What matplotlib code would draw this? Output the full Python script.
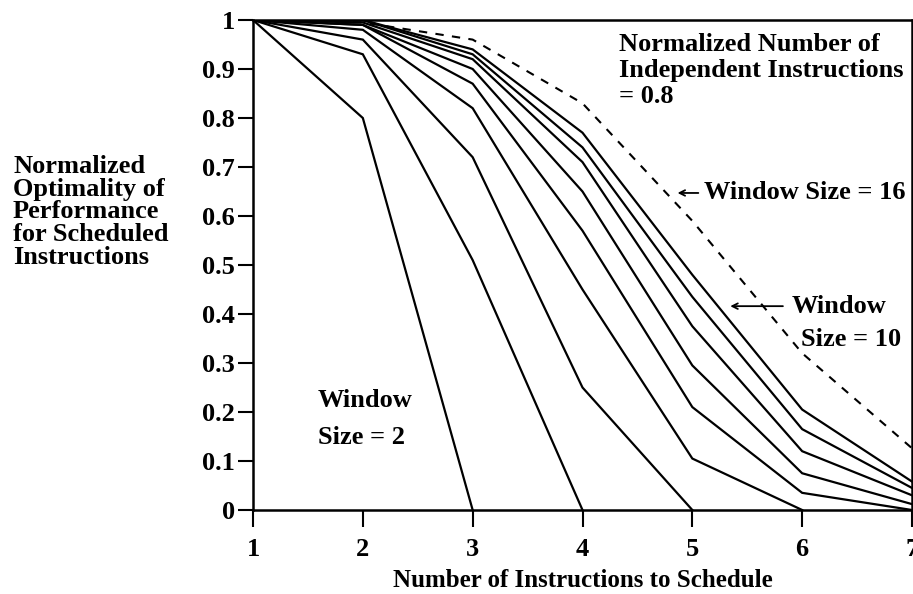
import numpy as np
import matplotlib.pyplot as plt

plt.rcParams['font.family'] = ['Liberation Serif', 'DejaVu Serif']
plt.rcParams['font.weight'] = 'bold'

# curve values (x = 1, 2, 3, ...), each curve stops where it reaches 0
w2 = [1.0, 0.80, 0.0]
w3 = [1.0, 0.93, 0.51, 0.0]
w4 = [1.0, 0.96, 0.72, 0.25, 0.0]
w5 = [1.0, 0.98, 0.82, 0.45, 0.105, 0.0]
w6 = [1.0, 0.99, 0.87, 0.57, 0.21, 0.035, 0.0]
w7 = [1.0, 0.99, 0.90, 0.65, 0.295, 0.075, 0.012]
w8 = [1.0, 0.995, 0.92, 0.71, 0.375, 0.12, 0.03]
w9 = [1.0, 1.0, 0.93, 0.74, 0.435, 0.165, 0.045]
w10 = [1.0, 1.0, 0.94, 0.77, 0.48, 0.205, 0.058]
w16 = [1.0, 0.995, 0.96, 0.83, 0.59, 0.32, 0.126]

solid_curves = [w2, w3, w4, w5, w6, w7, w8, w9, w10]

x_ticks = [1, 2, 3, 4, 5, 6, 7]
y_ticks = [0, 0.1, 0.2, 0.3, 0.4, 0.5, 0.6, 0.7, 0.8, 0.9, 1]
y_tick_labels = ['0', '0.1', '0.2', '0.3', '0.4', '0.5', '0.6', '0.7', '0.8', '0.9', '1']

fig = plt.figure(figsize=(9.13, 5.94), dpi=100)
ax = fig.add_axes([253 / 913, 84 / 594, 659 / 913, 490 / 594])

for c in solid_curves:
    ax.plot(np.arange(1, len(c) + 1), c, color='black', lw=1.6, solid_joinstyle='miter')
ax.plot(np.arange(1, len(w16) + 1), w16, color='black', lw=1.5, dashes=(4, 4))

ax.set_xlim(1, 7)
ax.set_ylim(0, 1)
ax.set_xticks(x_ticks)
ax.set_yticks(y_ticks)
ax.set_yticklabels(y_tick_labels)
for s in ax.spines.values():
    s.set_linewidth(1.8)
ax.tick_params(axis='both', direction='out', width=1.5, labelsize=19)
ax.tick_params(axis='y', length=11, pad=2)
ax.tick_params(axis='x', length=12, pad=8)

ax.set_xlabel('Number of Instructions to Schedule', fontsize=18, fontweight='bold', labelpad=6)
fig.text(13 / 913, 1 - 212 / 594,
         'Normalized\nOptimality of\nPerformance\nfor Scheduled\nInstructions',
         fontsize=19, fontweight='bold', ha='left', va='center', linespacing=0.99)

ax.text(4.336, 0.973, 'Normalized Number of\nIndependent Instructions\n= 0.8',
        fontsize=19, fontweight='bold', ha='left', va='top', linespacing=1.16)

# window size 16 label
ax.annotate('', xy=(4.84, 0.647), xytext=(5.08, 0.647),
            arrowprops=dict(arrowstyle='->', lw=1.3, color='black'))
ax.text(5.11, 0.647, 'Window Size = 16', fontsize=19, fontweight='bold', ha='left', va='center')

# window size 10 label
ax.annotate('', xy=(5.32, 0.416), xytext=(5.85, 0.416),
            arrowprops=dict(arrowstyle='->', lw=1.3, color='black'))
ax.text(5.90, 0.416, 'Window', fontsize=19, fontweight='bold', ha='left', va='center')
ax.text(5.99, 0.347, 'Size = 10', fontsize=19, fontweight='bold', ha='left', va='center')

# window size 2 label
ax.text(1.59, 0.224, 'Window', fontsize=19, fontweight='bold', ha='left', va='center')
ax.text(1.59, 0.147, 'Size = 2', fontsize=19, fontweight='bold', ha='left', va='center')

fig.savefig('out.png', dpi=100)
